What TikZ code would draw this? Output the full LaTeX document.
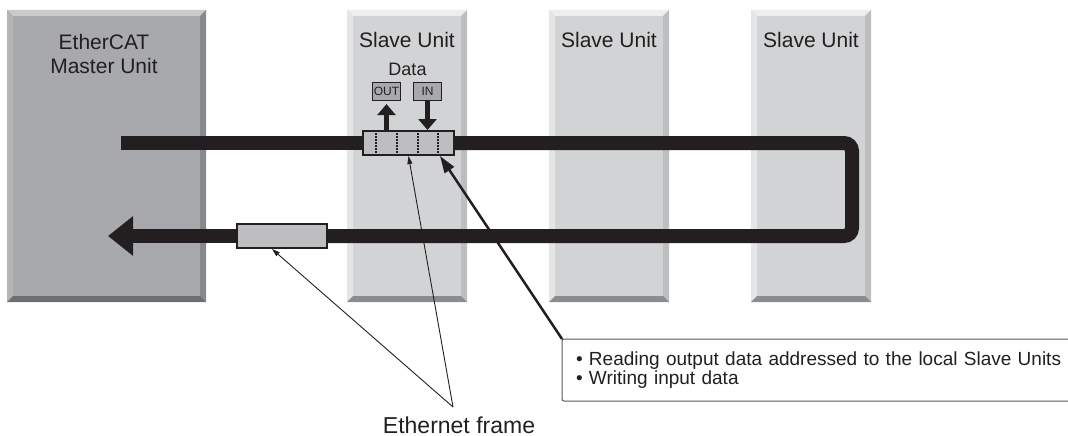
\documentclass[tikz,border=0pt]{standalone}
\usepackage{fontspec}
\setmainfont{Liberation Sans}
\usetikzlibrary{arrows.meta}

\definecolor{ink}{HTML}{231F20}
\definecolor{masterfill}{HTML}{A7A9AC}
\definecolor{mastertop}{HTML}{C9CACC}
\definecolor{masterleft}{HTML}{B3B5B7}
\definecolor{masterright}{HTML}{87898C}
\definecolor{masterbot}{HTML}{6D6E70}
\definecolor{slavefill}{HTML}{D1D3D4}
\definecolor{slavetop}{HTML}{EDEEEE}
\definecolor{slaveleft}{HTML}{E4E5E6}
\definecolor{slaveright}{HTML}{BCBEC0}
\definecolor{slavebot}{HTML}{8A8C8E}
\definecolor{framefill}{HTML}{BCBEC0}

% bevelled edges of a unit: node, top, left, right, bottom colour
\newcommand\bevel[5]{%
  \fill[#2] (#1.north west) -- (#1.north east) -- ([shift={(-6pt,-6pt)}]#1.north east) -- ([shift={(6pt,-6pt)}]#1.north west) -- cycle;
  \fill[#3] (#1.north west) -- ([shift={(6pt,-6pt)}]#1.north west) -- ([shift={(6pt,6pt)}]#1.south west) -- (#1.south west) -- cycle;
  \fill[#4] (#1.north east) -- ([shift={(-6pt,-6pt)}]#1.north east) -- ([shift={(-6pt,6pt)}]#1.south east) -- (#1.south east) -- cycle;
  \fill[#5] (#1.south west) -- ([shift={(6pt,6pt)}]#1.south west) -- ([shift={(-6pt,6pt)}]#1.south east) -- (#1.south east) -- cycle;}

\tikzset{
  unit/.style={inner sep=0,outer sep=0,minimum height=292pt},
  title/.style={text=ink,anchor=base,align=center,font=\fontsize{21}{24}\selectfont},
  bus/.style={draw=ink,line width=14pt},
  frame/.style={draw=ink,fill=framefill,line width=2pt,minimum height=24pt,inner sep=0},
  iobox/.style={draw=ink,fill=masterfill,line width=1.2pt,minimum width=28pt,minimum height=18pt,inner sep=0,text=ink,font=\fontsize{12}{12}\selectfont},
  io/.style={draw=ink,line width=5pt,-{Triangle[length=11pt,width=18pt]}},
  lead/.style={draw=ink,line width=2.5pt,-{Triangle[length=17pt,width=11pt]}},
  thinlead/.style={draw=ink,line width=0.9pt,-{Triangle[length=8pt,width=5pt]}},
}

\begin{document}
\begin{tikzpicture}[x=1pt,y=-1pt]
  \useasboundingbox (0,0) rectangle (1068,436);

  % units
  \node[unit,fill=masterfill,minimum width=199pt] (master) at (106.5,156) {};
  \bevel{master}{mastertop}{masterleft}{masterright}{masterbot}
  \node[title] (mastertitle) at (104,74) {EtherCAT\\Master Unit};
  \foreach \i/\x in {1/407,2/609,3/811} {
    \node[unit,fill=slavefill,minimum width=120pt] (slave\i) at (\x,156) {};
    \bevel{slave\i}{slavetop}{slaveleft}{slaveright}{slavebot}
    \node[title] (slavetitle\i) at (\x,48) {Slave Unit};
  }

  % frames on the line
  \node[frame,minimum width=91pt] (tframe) at (408.5,143) {};
  \foreach \f in {14,35,56,76}
    \draw[ink,line width=2pt,dash pattern=on 1.8pt off 1.2pt]
      ([xshift=\f pt]tframe.north west) -- ([xshift=\f pt]tframe.south west);
  \node[frame,minimum width=90pt] (bframe) at (282,236) {};

  % the line through the units
  \coordinate (start) at (121,143);
  \coordinate (turn) at (852,0);
  \coordinate (tip) at (108,236);
  \draw[bus] (start) -- (tframe.west);
  \draw[bus,rounded corners=8pt] (tframe.east) -- (tframe.east -| turn) -- (bframe.east -| turn) -- (bframe.east);
  \draw[bus,-{Triangle[length=25pt,width=38pt]}] (bframe.west) -- (tip);

  % data exchange in the first slave
  \node[text=ink,anchor=base,font=\fontsize{18}{18}\selectfont] (data) at (407.5,75) {Data};
  \node[iobox] (out) at (386.5,91.5) {OUT};
  \node[iobox] (in) at (427.5,91.5) {IN};
  \draw[io] (tframe.north -| out) -- ([yshift=-3pt]out.south);
  \draw[io] (in.south) -- (tframe.north -| in);

  % callouts
  \node[draw=ink!75,fill=white,line width=1pt,rounded corners=2pt,anchor=north west,outer sep=0,
        inner xsep=14pt,text width=500pt,minimum height=62pt,align=left,text=ink,
        font=\fontsize{19}{19.5}\selectfont] (note) at (562,339)
        {• Reading output data addressed to the local Slave Units\\• Writing input data};
  \draw[lead] (note.north west) -- ([xshift=-15pt]tframe.south east);

  \node[text=ink,anchor=base,font=\fontsize{23}{23}\selectfont] (ether) at (459,433) {Ethernet frame};
  \coordinate (fork) at (453,407);
  \draw[thinlead] (fork) -- ([xshift=-10pt]bframe.south);
  \draw[thinlead] (fork) -- (tframe.south);
\end{tikzpicture}
\end{document}
